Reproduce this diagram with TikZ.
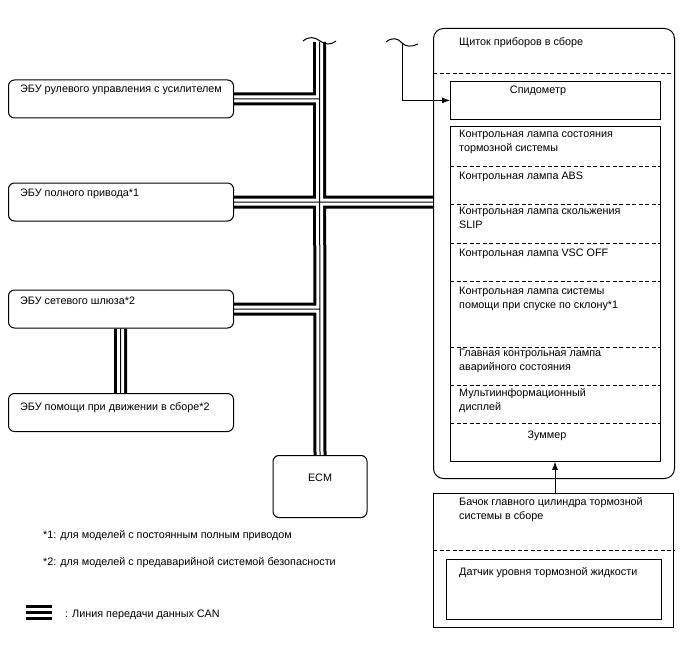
\documentclass[tikz,border=0pt]{standalone}
\usepackage{fontspec}
\setmainfont{Liberation Sans}
\usetikzlibrary{arrows.meta,calc,backgrounds}
\newcommand\canroute[1]{\draw[#1] (bt) -- (ecm.north) (b1.east) -- (b1.east -| bt) (b2.east) -- (b2.east -| cl.west) (b3.east) -- (b3.east -| bt) (b3.south -| gx) -- (b4.north -| gx);}
\begin{document}
\begin{tikzpicture}[x=1pt,y=-1pt, font=\fontsize{10.8}{14}\selectfont,
 ubox/.style={draw, line width=1pt, rounded corners=6pt, anchor=north west, inner sep=0},
 sbox/.style={draw, line width=0.8pt, anchor=north west, inner sep=0},
 txt/.style={anchor=north west, inner sep=0, align=left, execute at begin node=\strut},
 ctxt/.style={anchor=north, inner sep=0, align=center, execute at begin node=\strut},
 dsh/.style={line width=0.8pt, dash pattern=on 4pt off 2.5pt},
 arr/.style={line width=0.8pt, -{Latex[length=8pt,width=6pt]}},
 brk/.style={line width=1pt},
]
\useasboundingbox (0,0) rectangle (688,658);
% left boxes
\node[ubox, minimum width=225pt, minimum height=38pt] (b1) at (8,79.5) {};
\node[ubox, minimum width=225pt, minimum height=38pt] (b2) at (8,182.5) {};
\node[ubox, minimum width=225pt, minimum height=38pt] (b3) at (8,289.5) {};
\node[ubox, minimum width=225pt, minimum height=38pt] (b4) at (8,393) {};
\node[ubox, minimum width=94pt, minimum height=62pt] (ecm) at (272.5,455) {};
% right boxes
\node[ubox, rounded corners=10pt, minimum width=241pt, minimum height=450pt] (cl) at (433,28) {};
\node[sbox, minimum width=210pt, minimum height=38pt] (spd) at (450,81) {};
\node[sbox, minimum width=210pt, minimum height=335pt] (lamps) at (450,126) {};
\node[sbox, line width=1pt, minimum width=240pt, minimum height=134pt] (res) at (433,493) {};
\node[sbox, minimum width=215pt, minimum height=60pt] (sen) at (446,559) {};
% coordinates
\coordinate (bt) at (319.5,42);
\coordinate (gx) at (120.5,0);
\coordinate (aw) at (402,44);
\coordinate (ax) at (555,0);
% CAN bus
\begin{scope}[on background layer]
\canroute{line width=13pt}
\canroute{white,line width=7pt}
\canroute{line width=1pt}
\end{scope}
% break marks
\draw[brk] (303,41) .. controls (309,36) and (315,37) .. (320,41) .. controls (325,45) and (331,45) .. (336,41);
\draw[brk] (386,42) .. controls (392,37) and (398,38) .. (402,43) .. controls (406,47) and (412,47) .. (418,44);
% arrows
\draw[arr] (aw) |- (spd.west);
\draw[arr] (res.north -| ax) -- (lamps.south -| ax);
% dashed separators
\draw[dsh] (cl.west |- 0,73) -- (cl.east |- 0,73);
\foreach \yy in {166,204,243,281,347,385,423} \draw[dsh] (lamps.west |- 0,\yy) -- (lamps.east |- 0,\yy);
\draw[dsh] (res.west |- 0,550) -- (res.east |- 0,550);
% texts
\node[txt] (t1) at (20,83) {ЭБУ рулевого управления с усилителем};
\node[txt] (t2) at (20,186) {ЭБУ полного привода*1};
\node[txt] (t3) at (20,294) {ЭБУ сетевого шлюза*2};
\node[txt] (t4) at (20,400) {ЭБУ помощи при движении в сборе*2};
\node[ctxt] (tecm) at (320,471) {ECM};
\node[txt] (tcl) at (459,36) {Щиток приборов в сборе};
\node[ctxt] (tspd) at (538,84) {Спидометр};
\node[txt] (l1) at (459,130) {Контрольная лампа состояния\\тормозной системы};
\node[txt] (l2) at (459,169) {Контрольная лампа ABS};
\node[txt] (l3) at (459,207) {Контрольная лампа скольжения\\SLIP};
\node[txt] (l4) at (459,246) {Контрольная лампа VSC OFF};
\node[txt] (l5) at (459,287) {Контрольная лампа системы\\помощи при спуске по склону*1};
\node[txt] (l6) at (459,349) {Главная контрольная лампа\\аварийного состояния};
\node[txt] (l7) at (459,388) {Мультиинформационный\\дисплей};
\node[ctxt] (l8) at (547,428) {Зуммер};
\node[txt] (tres) at (459,497) {Бачок главного цилиндра тормозной\\системы в сборе};
\node[txt] (tsen) at (459,565) {Датчик уровня тормозной жидкости};
\node[txt] (f1) at (43,528) {*1: для моделей с постоянным полным приводом};
\node[txt] (f2) at (43,555) {*2: для моделей с предаварийной системой безопасности};
% legend
\foreach \yy in {606,612,618} \draw[line width=3pt] (26,\yy) -- (52,\yy);
\node[txt] (leg) at (65,607) {: Линия передачи данных CAN};
\end{tikzpicture}
\end{document}
